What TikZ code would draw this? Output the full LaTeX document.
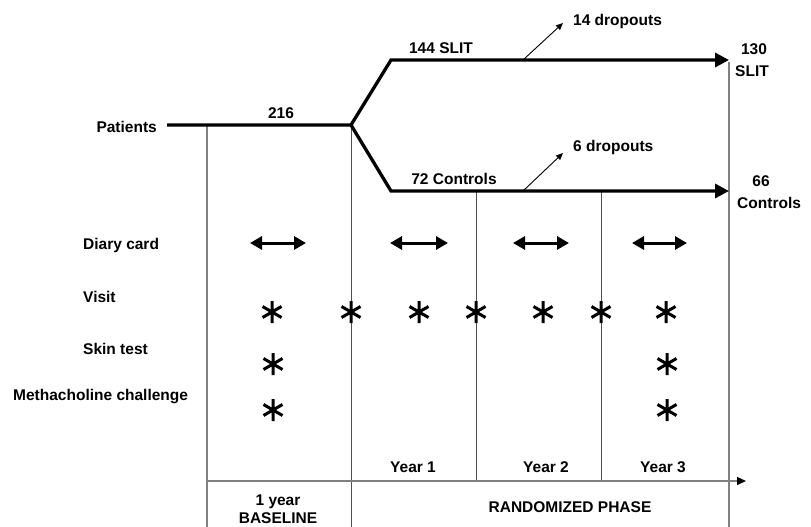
\documentclass[tikz,border=0pt]{standalone}
\usepackage{fontspec}
\setmainfont{Liberation Sans}
\usetikzlibrary{arrows.meta}
\definecolor{gline}{HTML}{808080}
\definecolor{dline}{HTML}{505050}
\tikzset{
  lbl/.style={font=\fontsize{15.5}{17}\selectfont\bfseries, inner sep=0pt},
  mainline/.style={line width=3.3pt, line join=miter},
  mainarrow/.style={mainline, -{Triangle[length=14pt,width=14pt]}},
  droparrow/.style={line width=0.9pt, -{Triangle[length=7pt,width=6pt]}},
  diary/.style={line width=3pt, {Triangle[length=12pt,width=13pt]}-{Triangle[length=12pt,width=13pt]}},
  grayline/.style={draw=gline, line width=1.4pt},
  darkline/.style={draw=dline, line width=1pt},
  axis/.style={draw=gline, line width=1.4pt, -{Triangle[length=9pt,width=8pt,color=black]}},
  ast/.pic={\draw[line width=3pt] (0,-11)--(0,11) (-9.5,-5.5)--(9.5,5.5) (-9.5,5.5)--(9.5,-5.5);}
}
\begin{document}
\begin{tikzpicture}[x=1pt,y=-1pt]
\useasboundingbox (0,0) rectangle (811,527);
% key coordinates
\coordinate (pstart) at (167,125);
\coordinate (split) at (351,125);
\coordinate (up) at (391,60);
\coordinate (upend) at (729,60);
\coordinate (lo) at (391,191);
\coordinate (loend) at (729,191);
\coordinate (dropA) at (523,60);
\coordinate (dropAend) at (563,23);
\coordinate (dropB) at (523,191);
\coordinate (dropBend) at (563,153);
\coordinate (baseTop) at (207,125);
\coordinate (baseBot) at (207,527);
\coordinate (randTop) at (351,125);
\coordinate (randBot) at (351,527);
\coordinate (endTop) at (729,62);
\coordinate (endBot) at (729,527);
\coordinate (y1Top) at (476,191);
\coordinate (y1Bot) at (476,481);
\coordinate (y2Top) at (601,191);
\coordinate (y2Bot) at (601,481);
\coordinate (axStart) at (207,481);
\coordinate (axEnd) at (746,481);

% grid lines
\draw[grayline] (baseTop) -- (baseBot);
\draw[darkline] (randTop) -- (randBot);
\draw[grayline] (endTop) -- (endBot);
\draw[darkline] (y1Top) -- (y1Bot);
\draw[darkline] (y2Top) -- (y2Bot);
\draw[axis] (axStart) -- (axEnd);

% flow lines
\draw[mainarrow] (pstart) -- (split) -- (up) -- (upend);
\draw[mainarrow] (split) -- (lo) -- (loend);
\draw[droparrow] (dropA) -- (dropAend);
\draw[droparrow] (dropB) -- (dropBend);

% texts
\node[lbl, anchor=base east] (patients) at (157,132) {Patients};
\node[lbl, anchor=base] (n216) at (281,118) {216};
\node[lbl, anchor=base] (slit144) at (441,53) {144 SLIT};
\node[lbl, anchor=base] (ctrl72) at (454,184) {72 Controls};
\node[lbl, anchor=base west] (drop14) at (573,26) {14 dropouts};
\node[lbl, anchor=base west] (drop6) at (573,151) {6 dropouts};
\node[lbl, anchor=base] (n130) at (754,55) {130};
\node[lbl, anchor=base] (slit130) at (752,77) {SLIT};
\node[lbl, anchor=base] (n66) at (761,186) {66};
\node[lbl, anchor=base west] (ctrl66) at (737,208) {Controls};
\node[lbl, anchor=base west] (diarylbl) at (83,249) {Diary card};
\node[lbl, anchor=base west] (visitlbl) at (83,302) {Visit};
\node[lbl, anchor=base west] (skinlbl) at (83,354) {Skin test};
\node[lbl, anchor=base west] (methlbl) at (13,400) {Methacholine challenge};
\node[lbl, anchor=base] (year1) at (413,472) {Year 1};
\node[lbl, anchor=base] (year2) at (546,472) {Year 2};
\node[lbl, anchor=base] (year3) at (663,472) {Year 3};
\node[lbl, anchor=base] (oneyear) at (278,505) {1 year};
\node[lbl, anchor=base] (baseline) at (278,523) {BASELINE};
\node[lbl, anchor=base] (randph) at (570,512) {RANDOMIZED PHASE};

% diary card arrows
\draw[diary] (250,243) -- (306,243);
\draw[diary] (390,243) -- (448,243);
\draw[diary] (513,243) -- (569,243);
\draw[diary] (632,243) -- (687,243);

% visit asterisks
\pic at (272,312) {ast};
\pic at (351,312) {ast};
\pic at (419,312) {ast};
\pic at (476,312) {ast};
\pic at (543,312) {ast};
\pic at (601,312) {ast};
\pic at (666,312) {ast};
% skin test
\pic at (273,364) {ast};
\pic at (667,364) {ast};
% methacholine
\pic at (273,410) {ast};
\pic at (667,410) {ast};
\end{tikzpicture}
\end{document}
